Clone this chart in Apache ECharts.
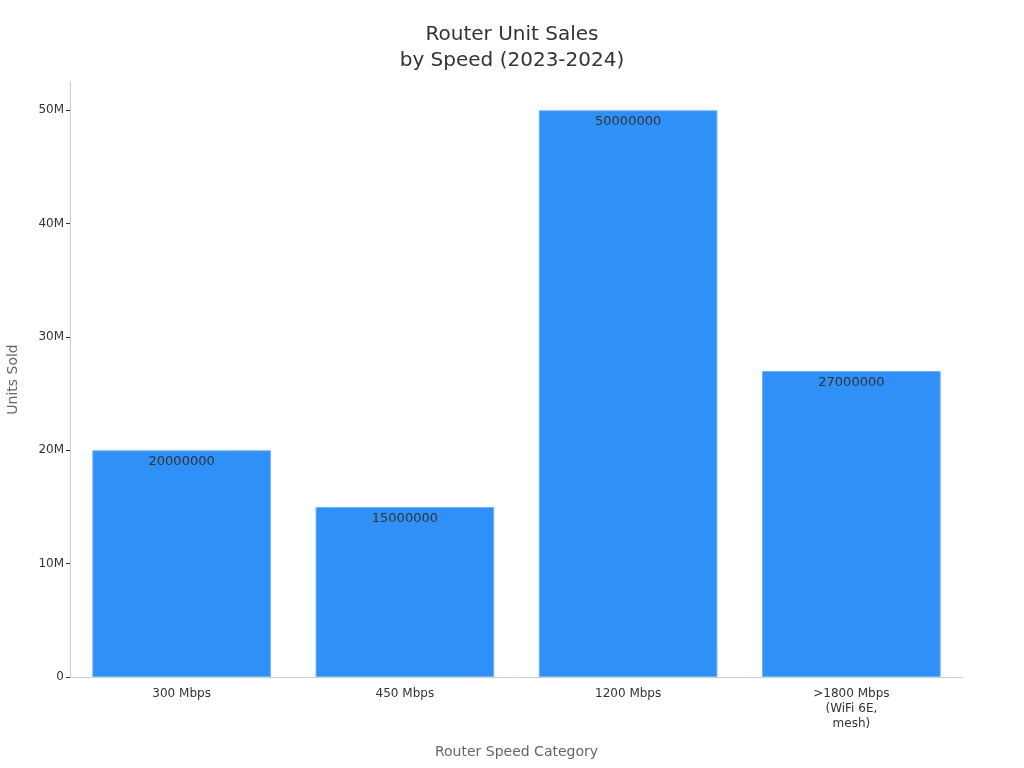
<!DOCTYPE html>
<html><head><meta charset="utf-8">
<script src="https://cdn.jsdelivr.net/npm/echarts@6/dist/echarts.min.js"></script>
<style>html,body{margin:0;padding:0;background:#fff}#c{width:1024px;height:768px}</style>
</head><body><div id="c"></div>
<script>
const categories = ['300 Mbps', '450 Mbps', '1200 Mbps', '>1800 Mbps\n(WiFi 6E,\nmesh)'];
const unitsSold = [20000000, 15000000, 50000000, 27000000];
const yTicks = [0, 10000000, 20000000, 30000000, 40000000, 50000000];

const chart = echarts.init(document.getElementById('c'));
chart.setOption({
  backgroundColor: '#fff',
  textStyle: { fontFamily: 'DejaVu Sans' },
  title: {
    text: 'Router Unit Sales\nby Speed (2023-2024)',
    left: 'center', top: 17,
    textStyle: { fontSize: 20, fontWeight: 'normal', color: '#333', lineHeight: 26, fontFamily: 'DejaVu Sans' }
  },
  grid: { left: 70, right: 61, top: 82, bottom: 91, containLabel: false, outerBoundsMode: 'none' },
  xAxis: {
    type: 'category',
    data: categories,
    name: 'Router Speed Category',
    nameLocation: 'middle',
    nameGap: 68,
    nameTextStyle: { color: '#666', fontSize: 14 },
    axisLine: { lineStyle: { color: '#ccc' } },
    axisTick: { alignWithLabel: true, length: 4, lineStyle: { color: '#333' } },
    axisLabel: { color: '#333', fontSize: 12, margin: 9, lineHeight: 15 }
  },
  yAxis: {
    type: 'value',
    min: 0, max: 52500000, interval: 10000000,
    name: 'Units Sold',
    nameLocation: 'middle',
    nameGap: 50,
    nameTextStyle: { color: '#666', fontSize: 14 },
    axisLine: { show: true, lineStyle: { color: '#ccc' } },
    axisTick: { show: true, length: 4, lineStyle: { color: '#333' }, customValues: yTicks },
    splitLine: { show: false },
    axisLabel: {
      color: '#333', fontSize: 12, margin: 6,
      customValues: yTicks,
      formatter: v => v === 0 ? '0' : (v / 1000000) + 'M'
    }
  },
  series: [{
    type: 'bar',
    data: unitsSold,
    barCategoryGap: '20%',
    itemStyle: { color: '#2f91f8', borderColor: '#6cb1f9', borderWidth: 1 },
    label: { show: true, position: 'insideTop', distance: 5, color: '#333', fontSize: 13 }
  }]
});
</script></body></html>
